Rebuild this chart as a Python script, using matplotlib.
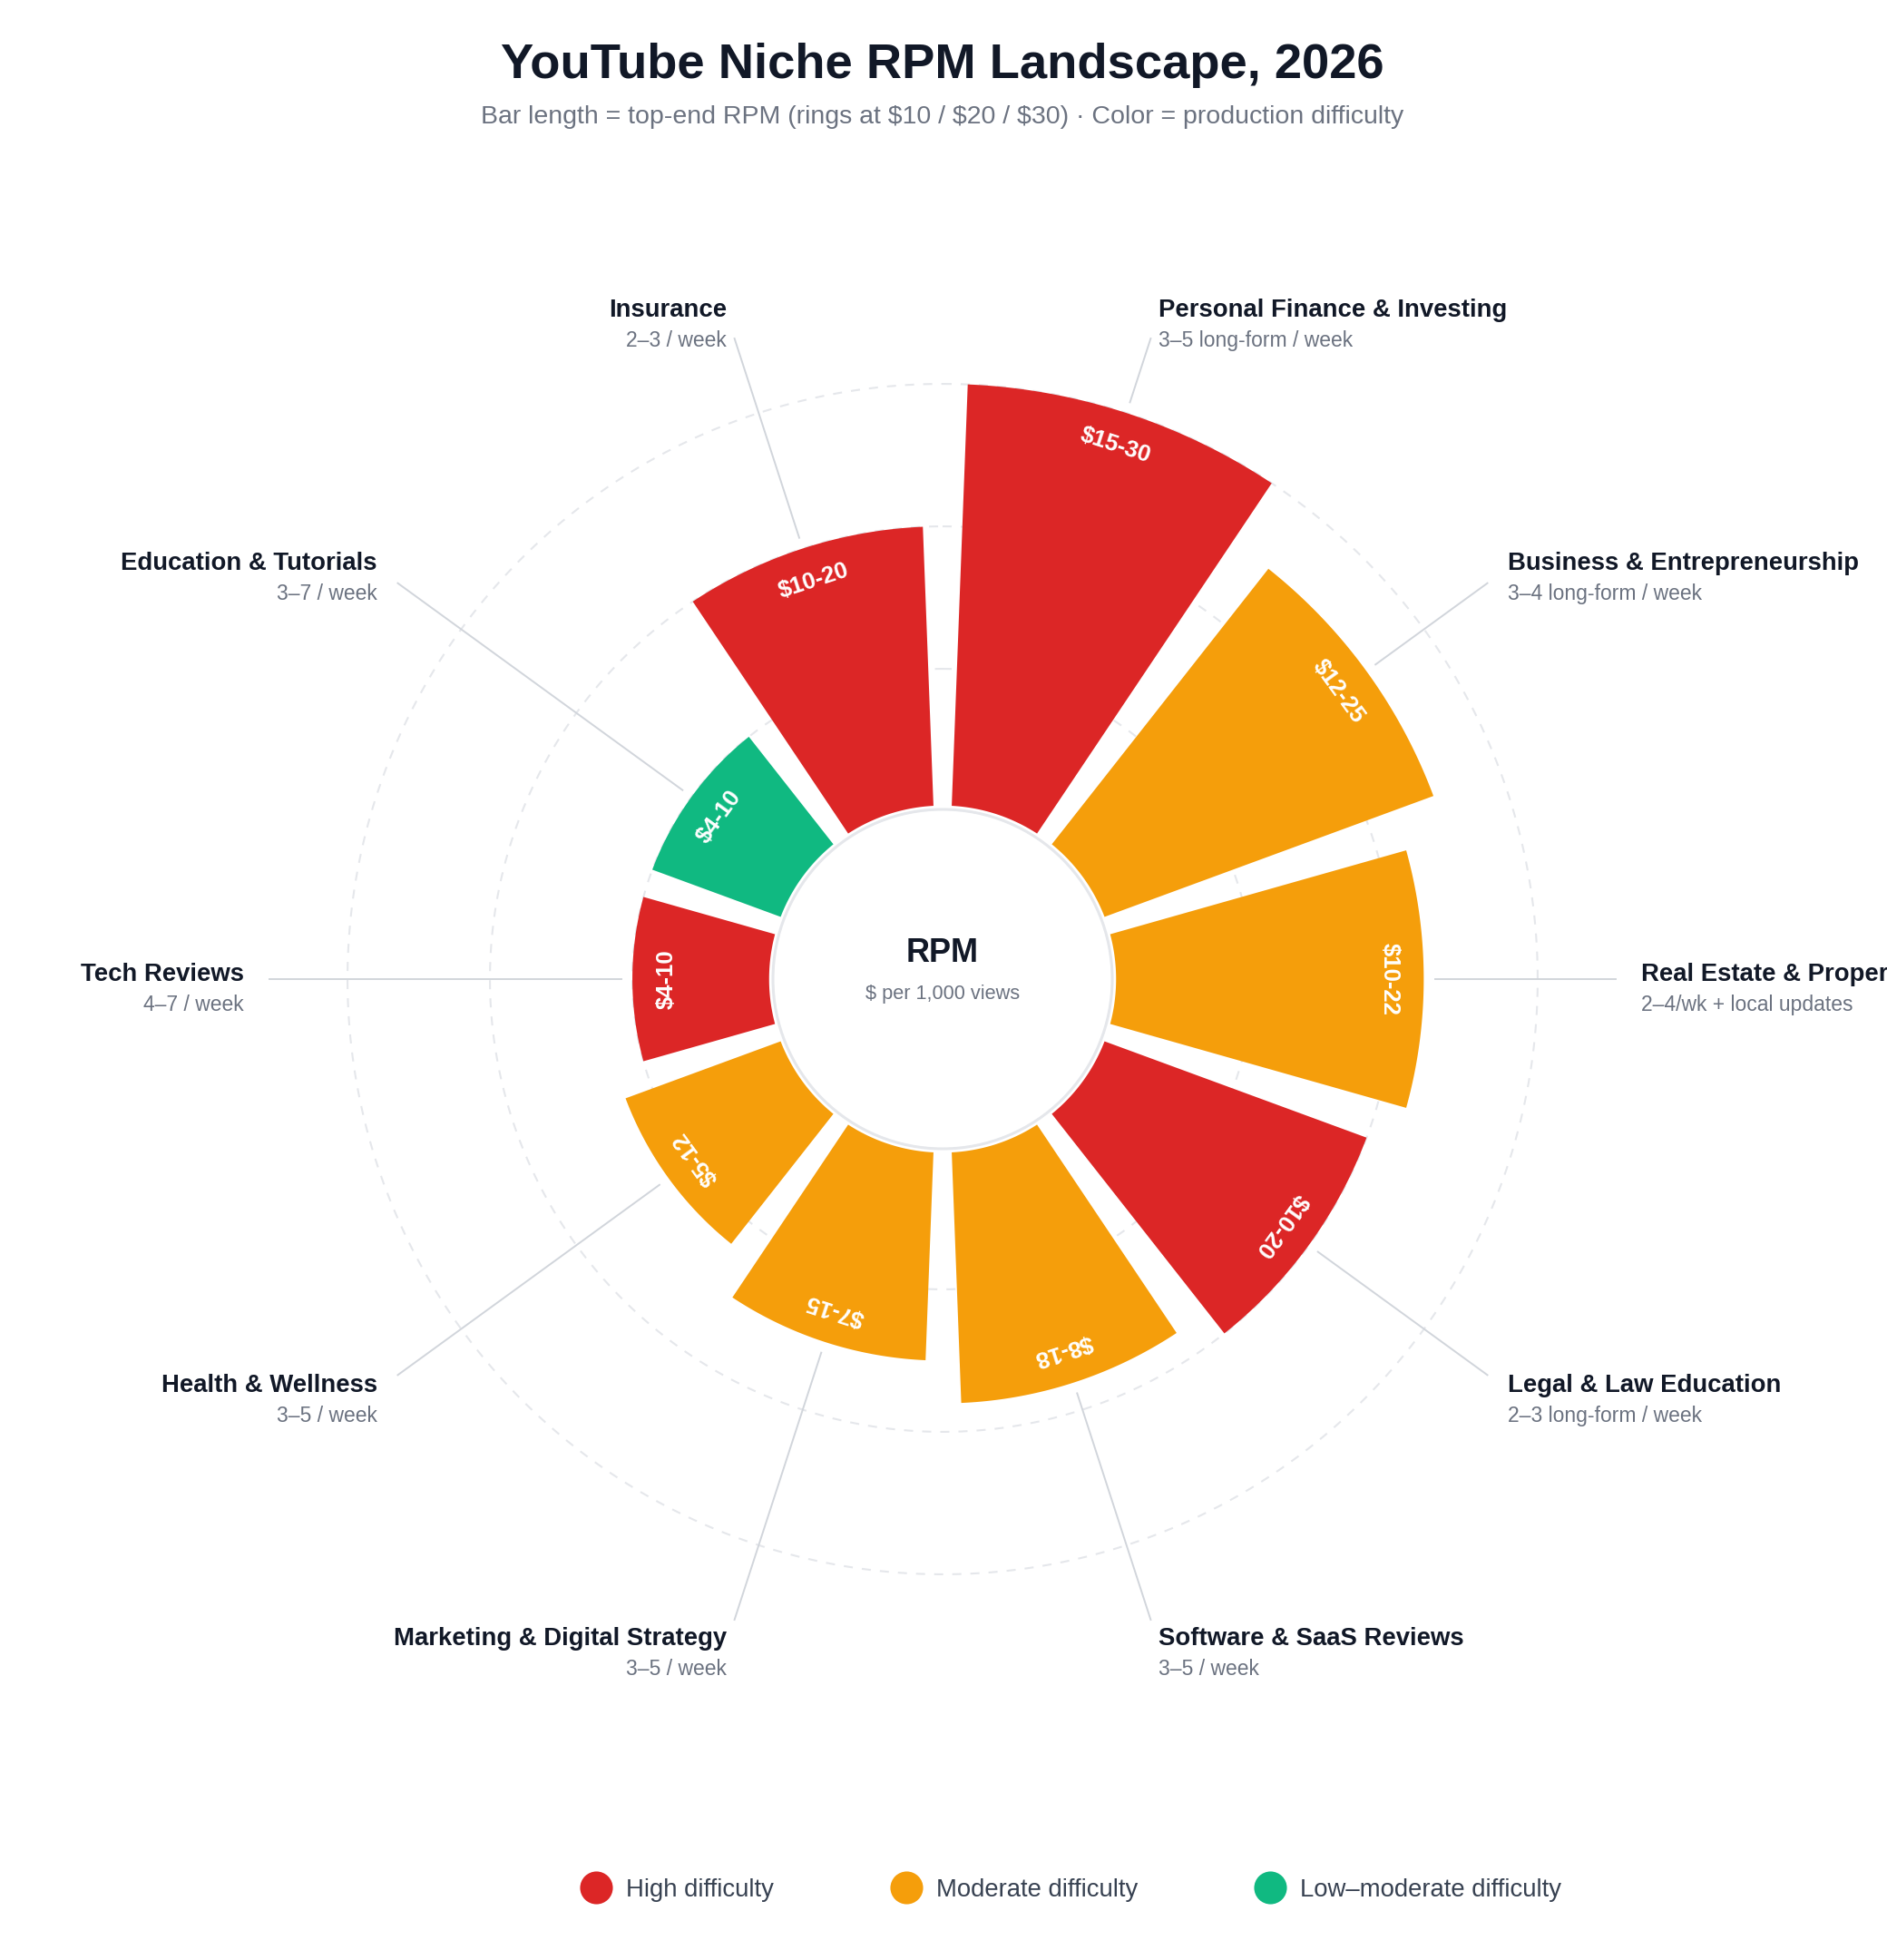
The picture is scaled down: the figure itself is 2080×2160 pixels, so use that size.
import numpy as np
import matplotlib
matplotlib.use("Agg")
import matplotlib.pyplot as plt
from matplotlib.lines import Line2D
from matplotlib.patches import Circle

plt.rcParams['font.family'] = ['Liberation Sans', 'DejaVu Sans']

# data, clockwise from 12 o'clock
niches = ["Personal Finance & Investing", "Business & Entrepreneurship",
          "Real Estate & Property", "Legal & Law Education",
          "Software & SaaS Reviews", "Marketing & Digital Strategy",
          "Health & Wellness", "Tech Reviews", "Education & Tutorials",
          "Insurance"]
cadence = ["3–5 long-form / week", "3–4 long-form / week",
           "2–4/wk + local updates", "2–3 long-form / week",
           "3–5 / week", "3–5 / week", "3–5 / week", "4–7 / week",
           "3–7 / week", "2–3 / week"]
rpm_low = [15, 12, 10, 10, 8, 7, 5, 4, 4, 10]
rpm_high = [30, 25, 22, 20, 18, 15, 12, 10, 10, 20]
difficulty = ["High", "Moderate", "Moderate", "High", "Moderate",
              "Moderate", "Moderate", "High", "Low–moderate", "High"]

diff_levels = ["High", "Moderate", "Low–moderate"]
diff_colors = {"High": "#DC2626", "Moderate": "#F59E0B", "Low–moderate": "#10B981"}
rings = [10, 20, 30]

DARK = "#111827"
GREY = "#6B7280"

# geometry (units = $ of RPM, hole radius in the same units)
R0 = 11.78
RMAX = 40
PX = 15.7  # px per unit
n = len(niches)
step = 2 * np.pi / n
half = step / 2

fig = plt.figure(figsize=(20.8, 21.6), dpi=100)
cx, cy = 1039, 1079
rad_px = (RMAX + R0) * PX
ax = fig.add_axes([(cx - rad_px) / 2080, (2160 - cy - rad_px) / 2160,
                   2 * rad_px / 2080, 2 * rad_px / 2160], projection='polar')
ax.set_theta_zero_location('N')
ax.set_theta_direction(-1)
ax.set_rorigin(-R0)
ax.set_rlim(0, RMAX)
ax.axis('off')

# dashed rings
full = np.linspace(0, 2 * np.pi, 400)
for v in rings:
    ax.plot(full, np.full_like(full, v), color='#E5E7EB', lw=1.5,
            ls=(0, (4.8, 4.8)), zorder=1)


def edge_off(v):
    R = v + R0
    return np.arcsin((2.8 / PX + 0.038 * R) / R)


for i in range(n):
    tc = (i + 0.5) * step
    v0, v1 = 0.4, rpm_high[i]
    rs = np.linspace(v0, v1, 60)
    left = tc - half + edge_off(rs)
    right = tc + half - edge_off(rs)
    arc_in = np.linspace(left[0], right[0], 60)
    arc_out = np.linspace(right[-1], left[-1], 120)
    th = np.concatenate([arc_in, right, arc_out, left[::-1]])
    rr = np.concatenate([np.full(60, v0), rs, np.full(120, v1), rs[::-1]])
    ax.fill(th, rr, color=diff_colors[difficulty[i]], lw=0, zorder=2)

    # value label along the arc
    deg = np.degrees(tc)
    ax.text(tc, v1 - 2.4, f"${rpm_low[i]}-{rpm_high[i]}", color='white',
            fontsize=18.5, fontweight='bold', rotation=-deg,
            rotation_mode='anchor', ha='center', va='center', zorder=5)

    # leader line + niche label
    ax.plot([tc, tc], [v1 + 0.79, 35.5], color='#D1D5DB', lw=1.4, zorder=1.5)
    ha = 'left' if 0 < deg < 180 else 'right'
    ax.annotate(niches[i], xy=(tc, 37.27), xytext=(0, -1.5),
                textcoords='offset points', ha=ha, va='baseline',
                fontsize=19.8, fontweight='bold', color=DARK,
                annotation_clip=False)
    ax.annotate(cadence[i], xy=(tc, 37.27), xytext=(0, -25.2),
                textcoords='offset points', ha=ha, va='baseline',
                fontsize=16.5, color=GREY, annotation_clip=False)

# centre hole
hole = Circle((0.5, 0.5), 187 / (2 * rad_px), transform=ax.transAxes,
              facecolor='white', edgecolor='#E5E7EB', lw=2.2, zorder=3)
ax.add_patch(hole)
fig.text(cx / 2080, 1 - 1060 / 2160, "RPM", ha='center', va='baseline',
         fontsize=26, fontweight='bold', color=DARK)
fig.text(cx / 2080, 1 - 1101 / 2160, "$ per 1,000 views", ha='center',
         va='baseline', fontsize=15.7, color=GREY)

# titles
fig.text(cx / 2080, 1 - 86 / 2160, "YouTube Niche RPM Landscape, 2026",
         ha='center', va='baseline', fontsize=39.2, fontweight='bold', color=DARK)
fig.text(cx / 2080, 1 - 136 / 2160,
         "Bar length = top-end RPM (rings at $10 / $20 / $30) · Color = production difficulty",
         ha='center', va='baseline', fontsize=20.5, color=GREY, parse_math=False)

# legend
handles = [Line2D([], [], ls='none', marker='o', markersize=26,
                  markerfacecolor=diff_colors[d], markeredgewidth=0)
           for d in diff_levels]
fig.legend(handles, [f"{d} difficulty" for d in diff_levels], ncol=3,
           loc='center', bbox_to_anchor=(1182 / 2080, 1 - 2083 / 2160),
           frameon=False, fontsize=19.8, labelcolor='#374151',
           handlelength=1.0, handletextpad=0.71, columnspacing=4.8)

fig.savefig("out.png", dpi=100, facecolor='white')
